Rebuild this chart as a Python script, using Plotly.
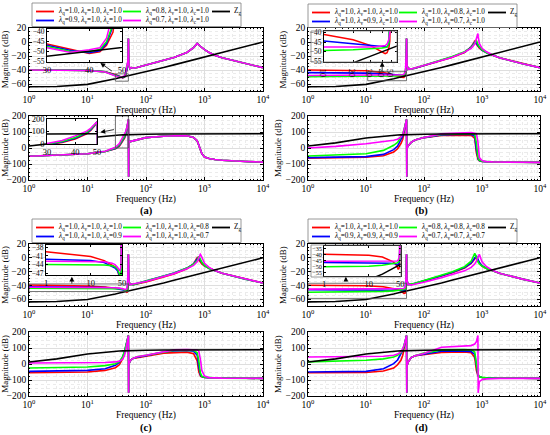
import math
import plotly.graph_objects as go

W, H = 550, 435
FONT = "Liberation Serif"
RED, BLUE, GREEN, MAGENTA, BLACK = "#ff0000", "#0000ff", "#00ff00", "#ff00ff", "#000000"
GRID, MINOR_GRID, BOXGRAY = "#dedede", "#ebebeb", "#7f7f7f"

# shared frequency grid (Hz)
F = [1, 3, 10, 20, 30, 35, 40, 43, 45, 47, 48, 49, 49.5, 50, 50.5, 51, 53, 56, 60, 70,
     100, 200, 300, 500, 650, 750, 800, 850, 860, 900, 1000, 1200, 1500, 2000, 5000, 10000]

# grid impedance Zg (same in every panel)
ZG_MAG = [-64, -63.5, -60.5, -56, -52.5, -51.2, -50.1, -49.5, -49.1, -48.7, -48.5, -48.3, -48.2, -48.1,
          -48.0, -47.9, -47.6, -47.1, -46.5, -45.3, -43, -36.5, -32.7, -28, -25.5, -24.2, -23.6, -23.0,
          -22.9, -22.5, -21.5, -19.8, -17.7, -15, -6.5, 0]
ZG_PH = [12, 32, 63, 75, 80, 81, 82, 82.5, 83, 83, 83, 83.5, 83.5, 83.5, 83.5, 83.5, 84, 84, 84.5, 85,
         86, 87.5, 88, 88.5, 89, 89, 89, 89, 89, 89, 89, 89.5, 89.5, 89.5, 89.5, 89.5]

# (a) lambda_q varies
A_MAG_R = [-39.6, -39.8, -40.5, -42.5, -46.4, -49.0, -51.2, -50.3, -47.0, -40.5, -36.5, -30, -15, 5,
           -22, -33, -38, -36.5, -37.5, -36.5, -33, -26, -22, -15, -8, -2, -3.5, -6, -6.5, -8, -11, -15, -19, -22.5, -31, -36.7]
A_MAG_B = [-39.7, -39.9, -40.5, -42.6, -47.0, -49.5, -50.8, -49.8, -46.2, -39.5, -35.5, -29, -15, 5,
           -22, -33, -38, -36.5, -37.5, -36.5, -33, -26, -22, -15, -8, -2, -3.5, -6, -6.5, -8, -11, -15, -19, -22.5, -31, -36.7]
A_MAG_G = [-39.8, -40.0, -40.6, -42.7, -47.6, -50.0, -50.2, -49.2, -45.2, -38.5, -34.5, -28, -15, 5,
           -22, -33, -38, -36.5, -37.5, -36.5, -33, -26, -22, -15, -8, -2, -3.5, -6, -6.5, -8, -11, -15, -19, -22.5, -31, -36.7]
A_MAG_M = [-40.0, -40.1, -40.7, -42.9, -48.3, -50.6, -49.3, -48.3, -43.5, -36.5, -32.5, -27, -15, 5,
           -22, -33, -38, -36.5, -37.5, -36.5, -33, -26, -22, -15, -8, -2, -3.5, -6, -6.5, -8, -11, -15, -19, -22.5, -31, -36.7]
A_PH_R = [-52, -46, -36, -22, -5, 12, 40, 62, 82, 110, 128, 150, 165, 178,
          -180, 35, 40, 42, 45, 52, 65, 73, 77, 76, 66, 45, 17, -15, -20, -35, -56, -66, -72, -77, -84, -88]
A_PH_B = [-52, -46, -36, -22, -3, 16, 46, 68, 88, 115, 132, 153, 167, 178,
          -180, 35, 40, 42, 45, 52, 65, 73, 77, 76, 66, 45, 17, -15, -20, -35, -56, -66, -72, -77, -84, -88]
A_PH_G = [-52, -46, -36, -21, 0, 20, 52, 74, 93, 120, 136, 156, 168, 178,
          -180, 35, 40, 42, 45, 52, 65, 73, 77, 76, 66, 45, 17, -15, -20, -35, -56, -66, -72, -77, -84, -88]
A_PH_M = [-52, -46, -36, -20, 4, 28, 65, 86, 103, 128, 142, 160, 170, 178,
          -180, 35, 40, 42, 45, 52, 65, 73, 77, 76, 66, 45, 17, -15, -20, -35, -56, -66, -72, -77, -84, -88]

# (b) lambda_v varies
B_MAG_R = [-40.0, -40.2, -41.0, -43.7, -46.7, -48.4, -50.2, -51.1, -50.6, -48.0, -44.5, -32, -15, 5,
           -22, -33, -39, -38, -38.5, -37.5, -34, -26.5, -22, -15, -7, 1, -3, -6, -6.5, -9, -12, -15.5, -18.6, -22.5, -31, -36.7]
B_MAG_B = [-43.8, -43.9, -44.4, -45.8, -46.7, -47.1, -47.5, -47.7, -47.5, -46.0, -43.0, -31, -15, 5,
           -22, -33, -39, -38, -38.5, -37.5, -33.5, -26, -21.5, -14.5, -7.5, 0, -1.5, -5, -5.5, -8.5, -11.5, -15.5, -18.6, -22.5, -31, -36.7]
B_MAG_G = [-49.6, -49.6, -49.4, -49.0, -48.6, -48.4, -48.1, -47.8, -47.5, -45.5, -42.5, -30.5, -15, 5,
           -22, -33, -39, -38, -38.5, -37, -33, -25.5, -21, -14, -8, -1, 2.5, -3, -4, -7, -11, -15.5, -18.6, -22.5, -31, -36.7]
B_MAG_M = [-47.8, -47.8, -47.7, -47.6, -47.5, -47.4, -47.2, -46.8, -46.0, -43.5, -40.0, -29, -15, 5,
           -22, -33, -39, -38, -38.5, -37, -33.5, -26.5, -22, -14.5, -9, -3, 4, 12, 8, -2, -9, -14, -18.6, -22.5, -31, -36.7]
B_PH_R = [-63, -61, -58, -48, -25, -5, 27, 55, 90, 125, 142, 162, 172, 178,
          -180, 0, 12, 25, 35, 50, 65, 78, 80, 82, 80, 60, -30, -70, -73, -80, -84, -86, -87, -88, -89, -90]
B_PH_B = [-60, -58, -54, -40, -10, 12, 48, 75, 105, 135, 148, 165, 172, 178,
          -180, 0, 12, 25, 35, 50, 65, 82, 85, 86, 85, 75, -10, -65, -69, -79, -84, -86, -87, -88, -89, -90]
B_PH_G = [-50, -45, -36, -15, 17, 35, 65, 88, 112, 138, 150, 166, 172, 178,
          -180, 0, 12, 25, 35, 50, 66, 85, 88, 90, 90, 85, 30, -55, -62, -77, -83, -86, -87, -88, -89, -90]
B_PH_M = [0, 10, 27, 38, 48, 55, 69, 85, 105, 135, 150, 168, 174, 178,
          -180, 0, 12, 25, 35, 50, 66, 88, 93, 95, 96, 95, 90, 40, 10, -60, -78, -85, -87, -88, -89, -90]

# (c) lambda_c varies
C_MAG_R = [-39.5, -40.2, -41.2, -42.6, -44.0, -44.8, -45.8, -47.0, -48.8, -51.0, -50.5, -38, -15, 5,
           -22, -33, -39, -38.5, -39, -38, -35, -28, -23.5, -16, -9, 0, -3, -6, -6.5, -9, -12, -15.5, -18.6, -22.5, -31, -36.7]
C_MAG_B = [-42.1, -42.3, -42.6, -43.3, -44.5, -45.2, -46.2, -47.0, -47.8, -49.0, -48.5, -35, -15, 5,
           -22, -33, -39, -38.5, -39, -37.5, -34, -26.5, -22, -15, -9, -2, 1.5, -4, -4.5, -8, -11.5, -15.5, -18.6, -22.5, -31, -36.7]
C_MAG_G = [-44.0, -44.0, -44.0, -44.1, -44.4, -44.8, -45.6, -46.5, -47.5, -48.5, -48.0, -33, -15, 5,
           -22, -33, -39, -38.5, -39, -37.5, -34, -27, -22.5, -15, -9.5, -4, 2, -2, -3, -6.5, -11, -15.5, -18.6, -22.5, -31, -36.7]
C_MAG_M = [-42.8, -42.8, -42.8, -43.0, -43.5, -44.0, -45.0, -45.8, -46.2, -45.0, -40.0, -25, -13, 5,
           -22, -33, -39, -38.5, -39, -37, -34.5, -27.5, -23, -16, -11, -6, -1, 5, 4.5, 1, -8, -14, -18.6, -22.5, -31, -36.7]
C_PH_R = [-55, -54, -50, -40, -23, -5, 33, 70, 100, 130, 145, 163, 172, 178,
          -180, 0, 15, 28, 35, 40, 48, 68, 72, 74, 65, 20, -50, -75, -77, -80, -84, -86, -87, -88, -89, -90]
C_PH_B = [-46, -44, -40, -30, -8, 10, 45, 80, 108, 135, 148, 163, 172, 178,
          -180, 0, 15, 28, 35, 42, 52, 75, 82, 84, 80, 55, -20, -70, -72, -79, -84, -86, -87, -88, -89, -90]
C_PH_G = [-25, -23, -19, -10, 2, 15, 45, 80, 108, 135, 148, 163, 172, 178,
          -180, 0, 15, 28, 35, 45, 55, 76, 85, 87, 85, 70, 20, -55, -60, -77, -83, -86, -87, -88, -89, -90]
C_PH_M = [6, 6, 7, 9, 13, 18, 30, 55, 85, 125, 145, 163, 172, 178,
          -180, 0, 15, 28, 35, 45, 55, 78, 88, 90, 90, 88, 80, 40, 20, -40, -75, -85, -87, -88, -89, -90]

# (d) all three vary together
D_MAG_R = [-39.8, -40.0, -40.5, -42.0, -44.5, -46.0, -48.0, -50.3, -51.8, -51.5, -49.0, -35, -15, 5,
           -22, -33, -39, -38.5, -39, -37.5, -34, -26.5, -22, -15, -8, -1, 1, -4, -4.5, -8, -12, -15.5, -18.6, -22.5, -31, -36.7]
D_MAG_B = [-46.5, -46.5, -46.6, -46.8, -47.0, -47.2, -47.6, -48.0, -48.0, -47.0, -45.0, -33, -15, 5,
           -22, -33, -39, -38.5, -39, -37, -33.5, -26, -21.5, -14, -7.5, -1, 3, -2, -3, -7, -11.5, -15.5, -18.6, -22.5, -31, -36.7]
D_MAG_G = [-50.0, -49.9, -49.5, -48.8, -48.0, -47.6, -47.2, -46.8, -46.4, -45.8, -44.5, -32, -15, 5,
           -22, -33, -39, -38.5, -39, -37, -33, -25, -20.5, -13, -5, 6.5, -1, -6, -6.5, -9, -12, -15.5, -18.6, -22.5, -31, -36.7]
D_MAG_M = [-45.5, -45.5, -45.5, -45.5, -45.5, -45.5, -45.4, -45.2, -44.5, -42.5, -39.0, -28, -14, 5,
           -22, -33, -39, -38.5, -39.5, -38.5, -35.5, -29, -25, -19, -14, -9, -5, 0, 1.5, 5, -6, -13, -18, -22.5, -31, -36.7]
D_PH_R = [-55, -55, -53, -44, -25, -5, 23, 55, 90, 125, 142, 163, 172, 178,
          -180, -10, 10, 25, 40, 52, 60, 72, 74, 75, 70, 40, -40, -75, -77, -80, -84, -86, -87, -88, -89, -90]
D_PH_B = [-50, -49, -46, -30, 2, 25, 60, 85, 108, 135, 150, 165, 172, 178,
          -180, -10, 10, 25, 40, 52, 63, 80, 82, 82, 78, 60, -20, -70, -72, -79, -84, -86, -87, -88, -89, -90]
D_PH_G = [13, 16, 23, 32, 44, 55, 70, 90, 110, 136, 150, 165, 172, 178,
          -180, -10, 10, 25, 40, 52, 68, 88, 90, 90, 88, 75, 0, -65, -68, -78, -83, -86, -87, -88, -89, -90]
D_PH_M = [44, 44, 45, 48, 55, 62, 75, 95, 112, 138, 152, 166, 173, 178,
          -180, -10, 10, 25, 40, 52, 65, 105, 110, 112, 115, 125, 140, 178, -180, -110, -98, -93, -91, -90, -90, -90]

# weights (lambda_q, lambda_v, lambda_c) for red, blue, green, magenta
LAM_A = [(1.0, 1.0, 1.0), (0.9, 1.0, 1.0), (0.8, 1.0, 1.0), (0.7, 1.0, 1.0)]
LAM_B = [(1.0, 1.0, 1.0), (1.0, 0.9, 1.0), (1.0, 0.8, 1.0), (1.0, 0.7, 1.0)]
LAM_C = [(1.0, 1.0, 1.0), (1.0, 1.0, 0.9), (1.0, 1.0, 0.8), (1.0, 1.0, 0.7)]
LAM_D = [(1.0, 1.0, 1.0), (0.9, 0.9, 0.9), (0.8, 0.8, 0.8), (0.7, 0.7, 0.7)]

X_TICKS = [1, 10, 100, 1000, 10000]
X_TICKTEXT = ["10<sup>0</sup>", "10<sup>1</sup>", "10<sup>2</sup>", "10<sup>3</sup>", "10<sup>4</sup>"]
MAG_TICKS = [-60, -40, -20, 0, 20]
PH_TICKS = [-200, -100, 0, 100, 200]
MINOR_X = [m * 10 ** d for d in range(4) for m in range(2, 10)]


def xd(x0, x1):
    return [x0 / W, x1 / W]


def yd(y0, y1):
    return [1 - y1 / H, 1 - y0 / H]


def ids(n):
    return ("x" if n == 1 else f"x{n}"), ("y" if n == 1 else f"y{n}")


def lam_text(l):
    return (f"<i>λ</i><sub>q</sub>={l[0]:.1f}, <i>λ</i><sub>v</sub>={l[1]:.1f}, "
            f"<i>λ</i><sub>c</sub>={l[2]:.1f}")


PANELS = [
    dict(tag="(a)", xs=(29, 263), mag=(28, 91), ph=(116, 180), leg=(32, 3),
         mags=[A_MAG_R, A_MAG_B, A_MAG_G, A_MAG_M], phs=[A_PH_R, A_PH_B, A_PH_G, A_PH_M], lam=LAM_A, lab=(146, 211)),
    dict(tag="(b)", xs=(308, 540), mag=(28, 91), ph=(116, 180), leg=(308, 4),
         mags=[B_MAG_R, B_MAG_B, B_MAG_G, B_MAG_M], phs=[B_PH_R, B_PH_B, B_PH_G, B_PH_M], lam=LAM_B, lab=(422, 211)),
    dict(tag="(c)", xs=(29, 263), mag=(244, 306), ph=(332, 396), leg=(32, 219),
         mags=[C_MAG_R, C_MAG_B, C_MAG_G, C_MAG_M], phs=[C_PH_R, C_PH_B, C_PH_G, C_PH_M], lam=LAM_C, lab=(146, 428)),
    dict(tag="(d)", xs=(308, 540), mag=(244, 306), ph=(332, 396), leg=(308, 219),
         mags=[D_MAG_R, D_MAG_B, D_MAG_G, D_MAG_M], phs=[D_PH_R, D_PH_B, D_PH_G, D_PH_M], lam=LAM_D, lab=(422, 428)),
]

# insets: (main panel index, magnitude or phase, x px, y px, x range Hz, y range, x ticks, y ticks, label size)
INSETS = [
    (0, "mag", (47, 122), (29, 62), (30, 50), (-55.5, -38.8), [30, 40, 50], [-40, -45, -50, -55], 7.5),
    (0, "ph", (47, 97), (119, 144), (30, 50), (0, 200), [30, 40, 50], [0, 100, 200], 8.5),
    (1, "mag", (324, 397), (31, 62), (10, 57), (-55.5, -39.1), [10, 20, 30, 40, 50], [-40, -45, -50, -55], 7.5),
    (2, "mag", (46, 122), (245, 275), (1, 50), (-47.6, -37.2), [1, 10, 50], [-38, -41, -44, -47], 7.5),
    (3, "mag", (324, 401), (246, 276), (1, 52), (-57.5, -33), [1, 10, 50], [-35, -40, -45, -50, -55], 6.2),
]
# zoom boxes drawn on the main plots: (axis number, f0, f1, y0, y1)
ZOOM_BOXES = [(1, 30, 50, -56, -45.5), (2, 30, 50, 0, 200), (3, 10.7, 50, -55.3, -42.4),
              (5, 1, 50, -49, -38), (7, 1, 50, -59, -37)]
# arrows: (axis number, head f, head y, tail f, tail y)
ARROWS = [(1, 16.6, -30, 27.7, -43), (2, 16.6, 98, 30, 117), (3, 19, -28.6, 19, -43),
          (5, 5.4, -27.5, 5.4, -39.6), (7, 4.5, -27.5, 4.5, -36)]

COLORS = [RED, BLUE, GREEN, MAGENTA]

fig = go.Figure()
layout = {}
shapes, annotations = [], []

axis_common = dict(showline=True, mirror="ticks", linecolor=BLACK, linewidth=0.8, ticks="inside",
                   ticklen=3, tickcolor=BLACK, zeroline=False, tickfont=dict(size=9.5, color=BLACK))

for i, p in enumerate(PANELS):
    for k, (rows, series, yt, yr) in enumerate([(p["mag"], p["mags"], MAG_TICKS, [-70, 20]),
                                                  (p["ph"], p["phs"], PH_TICKS, [-200, 200])]):
        n = 2 * i + 1 + k
        xid, yid = ids(n)
        for vals, col in zip(series, COLORS):
            fig.add_trace(go.Scatter(x=F, y=vals, xaxis=xid, yaxis=yid, mode="lines",
                                     line=dict(color=col, width=1.6), showlegend=False))
        fig.add_trace(go.Scatter(x=F, y=ZG_MAG if k == 0 else ZG_PH, xaxis=xid, yaxis=yid, mode="lines",
                                 line=dict(color=BLACK, width=1.6), showlegend=False))
        layout["xaxis" if n == 1 else f"xaxis{n}"] = dict(
            axis_common, type="log", range=[0, 4], domain=xd(*p["xs"]), anchor=yid,
            tickmode="array", tickvals=X_TICKS, ticktext=X_TICKTEXT,
            showgrid=True, gridcolor=GRID, gridwidth=0.6,
            minor=dict(tickmode="array", tickvals=MINOR_X, showgrid=True, gridcolor=MINOR_GRID,
                       griddash="dot", ticks="inside", ticklen=1.5, tickcolor=BLACK),
            title=dict(text="Frequency (Hz)", font=dict(size=9.5), standoff=1))
        layout["yaxis" if n == 1 else f"yaxis{n}"] = dict(
            axis_common, range=yr, domain=yd(*rows), anchor=xid,
            tickmode="array", tickvals=yt, showgrid=True, gridcolor=GRID, gridwidth=0.6,
            minor=dict(dtick=5 if k == 0 else 25, showgrid=True, gridcolor=MINOR_GRID, griddash="dot",
                       ticks="inside", ticklen=1.5, tickcolor=BLACK),
            title=dict(text="Magnitude (dB)", font=dict(size=9), standoff=2))

    # legend box drawn by hand, MATLAB style (3 columns, compact rows)
    lx, ly = p["leg"]
    shapes.append(dict(type="rect", xref="paper", yref="paper", x0=lx / W, x1=(lx + 209) / W,
                       y0=1 - (ly + 23.5) / H, y1=1 - ly / H, line=dict(color=BOXGRAY, width=0.8)))
    entries = [(p["lam"][0], RED, 0, 0), (p["lam"][1], BLUE, 0, 1), (p["lam"][2], GREEN, 1, 0),
               (p["lam"][3], MAGENTA, 1, 1), (None, BLACK, 2, 0)]
    col_x = [4, 91, 180]
    for lam, col, c, r in entries:
        yy = 1 - (ly + 8.5 + 9 * r) / H
        x0 = lx + col_x[c]
        shapes.append(dict(type="line", xref="paper", yref="paper", x0=x0 / W, x1=(x0 + 18) / W,
                           y0=yy, y1=yy, line=dict(color=col, width=1.8)))
        annotations.append(dict(xref="paper", yref="paper", x=(x0 + 20) / W, y=yy, xanchor="left",
                                yanchor="middle", showarrow=False, font=dict(size=7.2),
                                text=lam_text(lam) if lam else "Z<sub>g</sub>"))
    annotations.append(dict(xref="paper", yref="paper", x=p["lab"][0] / W, y=1 - p["lab"][1] / H,
                            xanchor="center", yanchor="middle", showarrow=False,
                            text=f"<b>{p['tag']}</b>", font=dict(size=10.5)))

for j, (pi, kind, xs, ys, xr, yr, xt, yt, fs) in enumerate(INSETS):
    n = 9 + j
    xid, yid = ids(n)
    p = PANELS[pi]
    series = p["mags"] if kind == "mag" else p["phs"]
    for vals, col in zip(series, COLORS):
        fig.add_trace(go.Scatter(x=F, y=vals, xaxis=xid, yaxis=yid, mode="lines",
                                 line=dict(color=col, width=1.5), showlegend=False))
    fig.add_trace(go.Scatter(x=F, y=ZG_MAG if kind == "mag" else ZG_PH, xaxis=xid, yaxis=yid,
                             mode="lines", line=dict(color=BLACK, width=1.5), showlegend=False))
    small = dict(axis_common, ticklen=2, tickfont=dict(size=fs, color=BLACK), showgrid=False)
    layout[f"xaxis{n}"] = dict(small, type="log", range=[math.log10(xr[0]), math.log10(xr[1])],
                               domain=xd(*xs), anchor=yid, tickmode="array", tickvals=xt,
                               tickfont=dict(size=8.5, color=BLACK))
    layout[f"yaxis{n}"] = dict(small, range=list(yr), domain=yd(*ys), anchor=xid,
                               tickmode="array", tickvals=yt)

# outer frames of the (b) and (d) insets (they enclose the tick labels)
for x0, y0, x1, y1 in [(311, 31, 397, 62), (311, 245, 401, 277)]:
    shapes.append(dict(type="rect", xref="paper", yref="paper", x0=x0 / W, x1=x1 / W,
                       y0=1 - y1 / H, y1=1 - y0 / H, line=dict(color=BOXGRAY, width=0.8)))

for n, f0, f1, y0, y1 in ZOOM_BOXES:
    xid, yid = ids(n)
    shapes.append(dict(type="rect", xref=xid, yref=yid, x0=f0, x1=f1, y0=y0, y1=y1,
                       line=dict(color="#505050", width=0.8)))
for n, hf, hy, tf, ty in ARROWS:
    xid, yid = ids(n)
    annotations.append(dict(xref=xid, yref=yid, axref=xid, ayref=yid, x=math.log10(hf), y=hy,
                            ax=math.log10(tf), ay=ty, text="", showarrow=True, arrowhead=2,
                            arrowsize=1.2, arrowwidth=0.8, arrowcolor=BLACK))

fig.update_layout(layout)
fig.update_layout(template="none", width=W, height=H, margin=dict(l=0, r=0, t=0, b=0),
                  paper_bgcolor="white", plot_bgcolor="white", showlegend=False,
                  font=dict(family=FONT, color=BLACK, size=9.5),
                  shapes=shapes, annotations=annotations)

fig.write_html("out.html", config={"displayModeBar": False},
               post_script="document.body.style.margin='0';")
